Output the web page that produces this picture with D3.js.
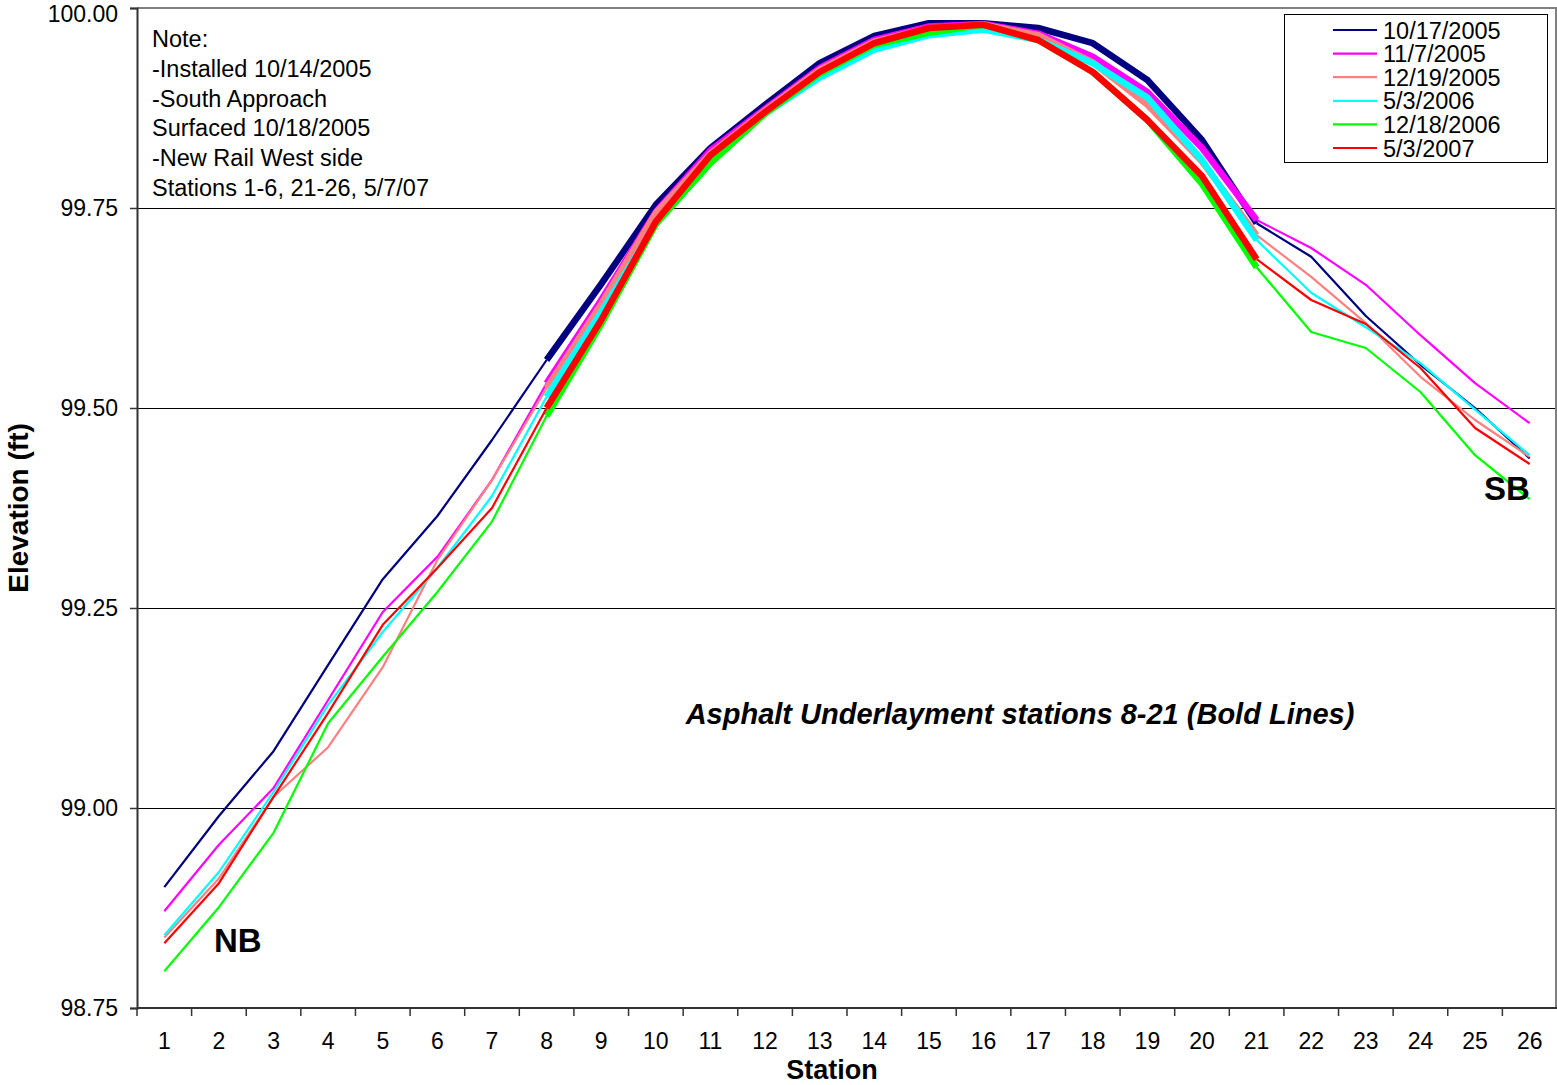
<!DOCTYPE html>
<html>
<head>
<meta charset="utf-8">
<script src="https://cdn.jsdelivr.net/npm/d3@7"></script>
<style>
  html, body { margin: 0; padding: 0; background: #fff; }
  svg { display: block; font-family: "Liberation Sans", Arial, sans-serif; }
</style>
</head>
<body>
<svg id="chart" width="1557" height="1085"></svg>
<script>
// Stations along the crossing
const stations = d3.range(1, 27);

// Survey dates (legend order / draw order)
const surveyDates = ["10/17/2005", "11/7/2005", "12/19/2005", "5/3/2006", "12/18/2006", "5/3/2007"];
const seriesColors = ["#000080", "#FF00FF", "#FF8080", "#00FFFF", "#00FF00", "#FF0000"];

// Elevations (ft) per station 1..26
const elev_10_17_2005 = [98.901, 98.99, 99.071, 99.179, 99.286, 99.365, 99.46, 99.56, 99.655, 99.754, 99.825, 99.879, 99.931, 99.965, 99.981, 99.981, 99.975, 99.956, 99.91, 99.835, 99.731, 99.689, 99.615, 99.554, 99.50, 99.437];
const elev_11_7_2005  = [98.871, 98.954, 99.025, 99.135, 99.245, 99.314, 99.41, 99.531, 99.635, 99.745, 99.822, 99.874, 99.925, 99.96, 99.977, 99.98, 99.968, 99.939, 99.895, 99.825, 99.735, 99.70, 99.654, 99.591, 99.531, 99.481];
const elev_12_19_2005 = [98.838, 98.912, 99.014, 99.076, 99.176, 99.31, 99.41, 99.525, 99.63, 99.744, 99.818, 99.872, 99.923, 99.958, 99.975, 99.979, 99.966, 99.932, 99.879, 99.808, 99.716, 99.664, 99.606, 99.539, 99.485, 99.439];
const elev_5_3_2006   = [98.841, 98.92, 99.02, 99.129, 99.22, 99.30, 99.39, 99.514, 99.62, 99.73, 99.81, 99.868, 99.913, 99.948, 99.966, 99.973, 99.96, 99.931, 99.888, 99.81, 99.71, 99.644, 99.601, 99.556, 99.498, 99.441];
const elev_12_18_2006 = [98.796, 98.876, 98.969, 99.106, 99.189, 99.27, 99.358, 99.49, 99.605, 99.73, 99.806, 99.868, 99.918, 99.954, 99.969, 99.979, 99.96, 99.92, 99.86, 99.78, 99.676, 99.595, 99.575, 99.52, 99.441, 99.386];
const elev_5_3_2007   = [98.831, 98.906, 99.014, 99.119, 99.229, 99.30, 99.375, 99.50, 99.61, 99.733, 99.816, 99.87, 99.92, 99.956, 99.975, 99.979, 99.96, 99.92, 99.86, 99.79, 99.686, 99.635, 99.605, 99.55, 99.475, 99.43];

const seriesValues = [elev_10_17_2005, elev_11_7_2005, elev_12_19_2005, elev_5_3_2006, elev_12_18_2006, elev_5_3_2007];

// Y axis ticks
const yTicks = [98.75, 99.00, 99.25, 99.50, 99.75, 100.00];

// Asphalt underlayment span (bold segment)
const boldFrom = 8, boldTo = 21;

const noteLines = ["Note:", "-Installed 10/14/2005", "-South Approach", "Surfaced 10/18/2005", "-New Rail West side", "Stations 1-6, 21-26, 5/7/07"];

const svg = d3.select("#chart");
const plot = { left: 137, right: 1557, top: 8, bottom: 1008 };

const x = d3.scaleBand().domain(stations).range([plot.left, plot.right]).paddingInner(0).paddingOuter(0);
const y = d3.scaleLinear().domain([98.75, 100]).range([plot.bottom, plot.top]);
const cx = s => x(s) + x.bandwidth() / 2;

// Horizontal gridlines
svg.append("g").selectAll("line")
  .data(yTicks.filter(t => t > 98.75 && t < 100))
  .join("line")
  .attr("x1", plot.left).attr("x2", plot.right)
  .attr("y1", d => y(d)).attr("y2", d => y(d))
  .attr("stroke", "#000").attr("stroke-width", 1).attr("shape-rendering", "crispEdges");

// Plot frame (top and right)
svg.append("line").attr("x1", plot.left).attr("x2", plot.right).attr("y1", plot.top).attr("y2", plot.top)
  .attr("stroke", "#808080").attr("stroke-width", 2);
svg.append("line").attr("x1", plot.right - 1).attr("x2", plot.right - 1).attr("y1", plot.top).attr("y2", plot.bottom)
  .attr("stroke", "#808080").attr("stroke-width", 2);

// Y axis
const yAxis = d3.axisLeft(y).tickValues(yTicks).tickFormat(d3.format(".2f")).tickSize(7).tickPadding(12);
const gy = svg.append("g").attr("transform", `translate(${plot.left},0)`).call(yAxis);
gy.select(".domain").attr("stroke", "#333").attr("stroke-width", 2);
gy.selectAll(".tick line").attr("stroke", "#333").attr("stroke-width", 1.5);
gy.selectAll(".tick text").attr("font-size", 23).attr("fill", "#000")
  .attr("font-family", "'Liberation Sans', Arial, sans-serif")
  .attr("dy", d => d === 100 ? "0.6em" : "0.32em");

// X axis: labels centred in each band, tick marks on band boundaries
const xAxis = d3.axisBottom(x).tickSize(0).tickPadding(25);
const gx = svg.append("g").attr("transform", `translate(0,${plot.bottom})`).call(xAxis);
gx.select(".domain").remove();
gx.selectAll(".tick text").attr("font-size", 23).attr("fill", "#000")
  .attr("font-family", "'Liberation Sans', Arial, sans-serif");
svg.append("line").attr("x1", plot.left).attr("x2", plot.right).attr("y1", plot.bottom).attr("y2", plot.bottom)
  .attr("stroke", "#333").attr("stroke-width", 2);
svg.append("g").selectAll("line")
  .data(stations)
  .join("line")
  .attr("x1", d => x(d)).attr("x2", d => x(d))
  .attr("y1", plot.bottom).attr("y2", plot.bottom + 8)
  .attr("stroke", "#333").attr("stroke-width", 1.5);

// Axis titles
svg.append("text").attr("x", 832).attr("y", 1079).attr("text-anchor", "middle")
  .attr("font-size", 27).attr("font-weight", "bold").text("Station");
svg.append("text").attr("transform", "translate(28,508) rotate(-90)").attr("text-anchor", "middle")
  .attr("font-size", 28).attr("font-weight", "bold").text("Elevation (ft)");

// Series lines: thin approach segments, bold underlayment segment
const line = d3.line().x(d => cx(d.s)).y(d => y(d.v));
const gLines = svg.append("g").attr("fill", "none").attr("stroke-linejoin", "round");
seriesValues.forEach((vals, i) => {
  const pts = stations.map((s, k) => ({ s, v: vals[k] }));
  const parts = [
    { data: pts.filter(p => p.s <= boldFrom), w: 2.2 },
    { data: pts.filter(p => p.s >= boldTo), w: 2.2 },
    { data: pts.filter(p => p.s >= boldFrom && p.s <= boldTo), w: 6.5 }
  ];
  parts.forEach(p => {
    gLines.append("path").datum(p.data).attr("d", line)
      .attr("stroke", seriesColors[i]).attr("stroke-width", p.w);
  });
});

// Note block
const note = svg.append("text").attr("font-size", 23.5).attr("fill", "#000");
noteLines.forEach((t, i) => {
  note.append("tspan").attr("x", 152).attr("y", 47 + i * 29.8).text(t);
});

// Labels in the plot
svg.append("text").attr("x", 214).attr("y", 952).attr("font-size", 33).attr("font-weight", "bold").text("NB");
svg.append("text").attr("x", 1484).attr("y", 500).attr("font-size", 33).attr("font-weight", "bold").text("SB");
svg.append("text").attr("x", 1020).attr("y", 724).attr("text-anchor", "middle")
  .attr("font-size", 29).attr("font-weight", "bold").attr("font-style", "italic")
  .text("Asphalt Underlayment stations 8-21 (Bold Lines)");

// Legend
const legend = svg.append("g");
legend.append("rect").attr("x", 1284.5).attr("y", 14.5).attr("width", 263).attr("height", 148)
  .attr("fill", "#fff").attr("stroke", "#000").attr("stroke-width", 1);
surveyDates.forEach((d, i) => {
  const yy = 30 + i * 23.6;
  legend.append("line").attr("x1", 1333).attr("x2", 1377).attr("y1", yy).attr("y2", yy)
    .attr("stroke", seriesColors[i]).attr("stroke-width", 2.2);
  legend.append("text").attr("x", 1383).attr("y", yy + 8.5).attr("font-size", 23.5).text(d);
});
</script>
</body>
</html>
